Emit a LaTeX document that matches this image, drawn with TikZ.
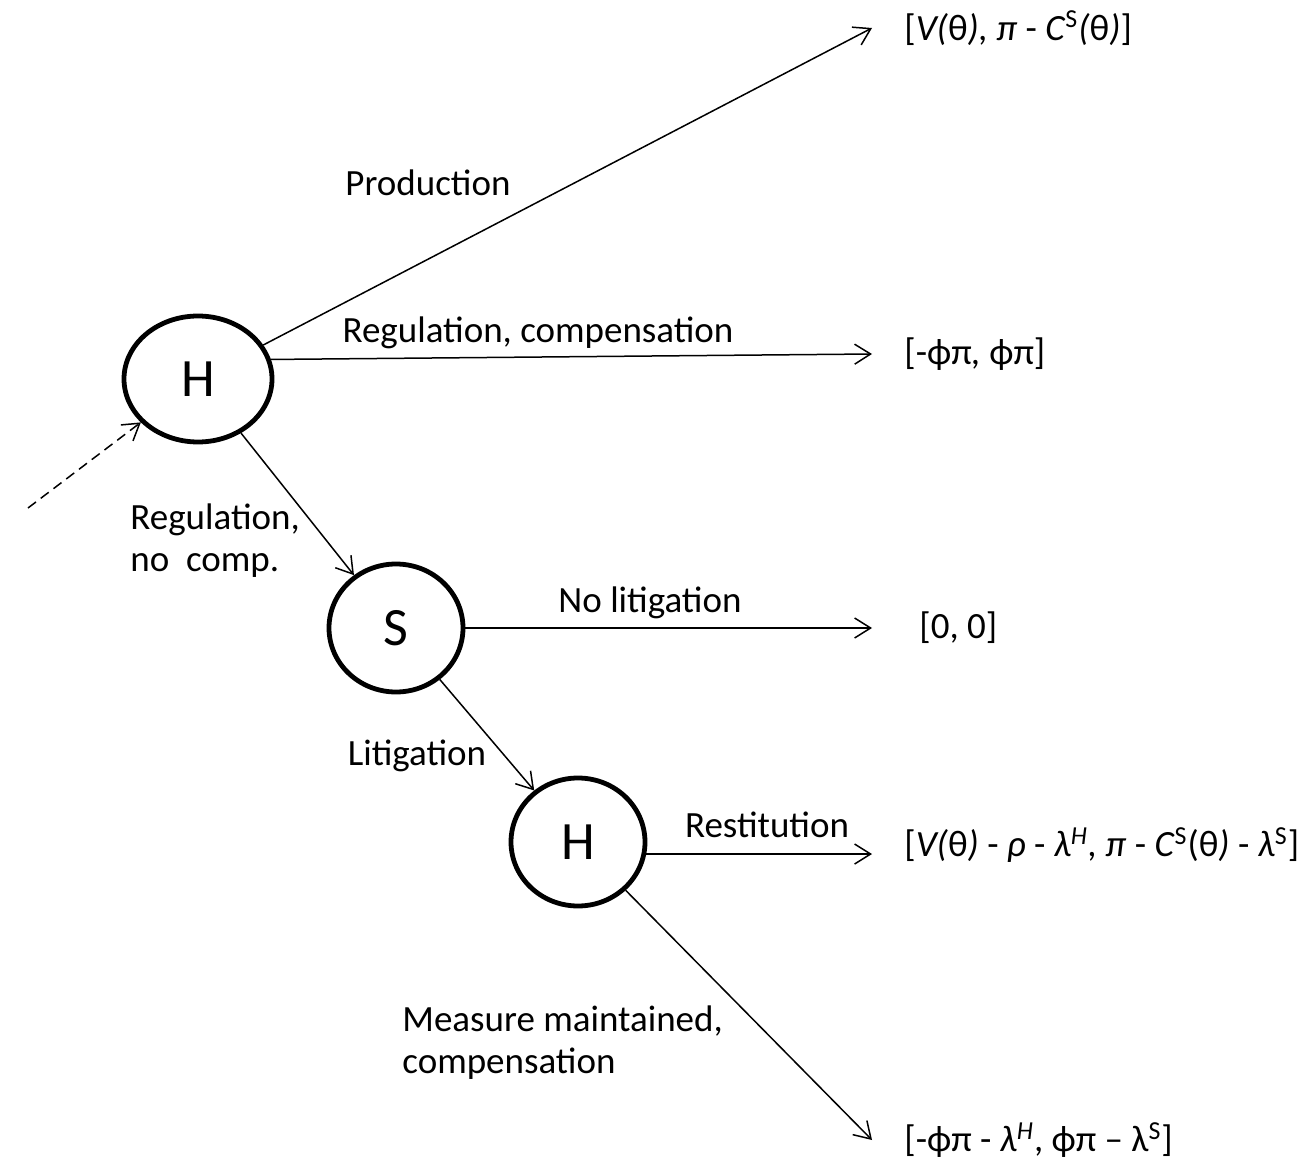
\documentclass[tikz,border=0pt]{standalone}
\usepackage{fontspec}
\setmainfont{Carlito}
\usetikzlibrary{arrows.meta,shapes.geometric}

\begin{document}
\begin{tikzpicture}[x=0.5pt,y=-0.5pt,
  every node/.style={font=\fontsize{18.5}{21}\selectfont},
  player/.style={ellipse,draw,line width=2.4pt,inner sep=0pt,minimum width=67pt,minimum height=64pt,font=\fontsize{27}{32}\selectfont},
  move/.style={-{Straight Barb[length=8pt,width=10pt]},line width=0.75pt},
  payoff/.style={anchor=west,inner xsep=16pt,inner ysep=0pt},
  lbl/.style={inner sep=0pt,align=left}]
\useasboundingbox (0,0) rectangle (1310,1165);

% decision nodes
\node[player,minimum width=74pt,minimum height=63pt] (h1) at (198,379) {H};
\node[player] (s) at (396,628) {S};
\node[player] (h2) at (578,842) {H};

% payoffs
\node[payoff] (pay1) at (872,28) {[\textit{V(}θ\textit{), π} - \textit{C}\textsuperscript{S}\textit{(}θ\textit{)}]};
\node[payoff] (pay2) at (872,354) {[-ϕπ\textit{,} ϕπ]};
\node[payoff] (pay3) at (887,628) {[0, 0]};
\node[payoff] (pay4) at (872,845) {[\textit{V(}θ\textit{)} - \textit{ρ} - \textit{λ}\textsuperscript{\textit{H}}\textit{, π} - \textit{C}\textsuperscript{S}(θ\textit{)} - \textit{λ}\textsuperscript{S}]};
\node[payoff] (pay5) at (872,1140) {[-ϕπ - \textit{λ}\textsuperscript{\textit{H}}, ϕπ – λ\textsuperscript{S}]};

\coordinate (entry) at (28,508);

% moves
\draw[move] (h1) -- (pay1.west);
\draw[move] (h1.15) -- (pay2.west);
\draw[move] (h1) -- (s);
\draw[move] (s) -- (pay3.west) [shorten >=7.5pt];
\draw[move] (s) -- (h2);
\draw[move] (h2.-10) -- (h2.-10 -| pay4.west);
\draw[move] (h2) -- (pay5.west);
\draw[move,dashed,dash pattern=on 5pt off 3pt] (entry) -- (h1);

% labels
\node[lbl] (lprod) at (428,183) {Production};
\node[lbl] (lregc) at (538,333) {Regulation, compensation};
\node[lbl,anchor=west] (lregn) at (130,541) {Regulation,\\no\ \ comp.};
\node[lbl] (lnolit) at (650,603) {No litigation};
\node[lbl] (llit) at (417,756) {Litigation};
\node[lbl] (lrest) at (767,825) {Restitution};
\node[lbl,anchor=west] (lmeas) at (402,1043) {Measure maintained,\\compensation};
\end{tikzpicture}
\end{document}
